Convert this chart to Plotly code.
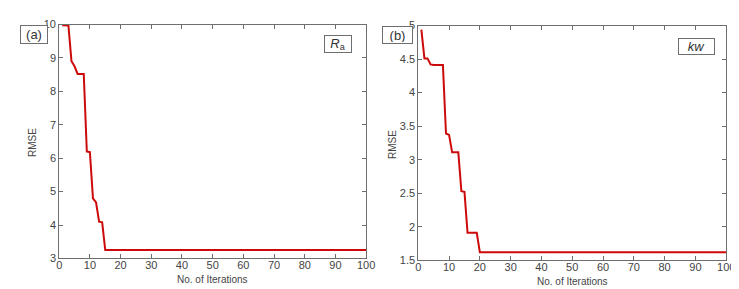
import plotly.graph_objects as go

iterations = list(range(1, 101))

ra_rmse = ([9.98, 9.98, 9.97, 8.9, 8.75, 8.52, 8.52, 8.52, 6.2, 6.18,
            4.8, 4.68, 4.1, 4.08, 3.25] + [3.25] * 85)

kw_rmse = ([4.94, 4.51, 4.51, 4.42, 4.41, 4.41, 4.41, 4.41, 3.39, 3.37,
            3.11, 3.11, 3.11, 2.53, 2.52, 1.91, 1.91, 1.91, 1.91, 1.62] + [1.62] * 80)

x_ticks = list(range(0, 101, 10))
ra_ticks = [3, 4, 5, 6, 7, 8, 9, 10]
kw_ticks = [1.5, 2, 2.5, 3, 3.5, 4, 4.5, 5]
kw_tick_text = ["1.5", "2", "2.5", "3", "3.5", "4", "4.5", "5"]

W, H = 739, 289
FONT = "Liberation Sans, Arial, sans-serif"
AXC = "#6e6e6e"
TXT = "#444444"
RED = "#cc0a0a"

fig = go.Figure()
fig.add_trace(go.Scatter(x=iterations, y=ra_rmse, mode="lines",
                         line=dict(color=RED, width=2), xaxis="x", yaxis="y",
                         showlegend=False))
fig.add_trace(go.Scatter(x=iterations, y=kw_rmse, mode="lines",
                         line=dict(color=RED, width=2), xaxis="x2", yaxis="y2",
                         showlegend=False))

def px_x(p):
    return p / W

def px_y(p):
    return 1 - p / H

axis_common = dict(showline=True, linecolor=AXC, linewidth=1, mirror="ticks",
                   ticks="inside", ticklen=4, tickcolor=AXC, showgrid=False,
                   zeroline=False, tickfont=dict(family=FONT, size=11, color=TXT))

fig.update_layout(
    width=W, height=H,
    margin=dict(l=0, r=0, t=0, b=0),
    paper_bgcolor="white", plot_bgcolor="white",
    font=dict(family=FONT, color=TXT),
    xaxis=dict(domain=[px_x(49), px_x(361)], range=[0, 100], tickvals=x_ticks,
               anchor="y", ticklabelstandoff=-4, **axis_common),
    yaxis=dict(domain=[px_y(255), px_y(11)], range=[3, 10], tickvals=ra_ticks,
               anchor="x", **axis_common),
    xaxis2=dict(domain=[px_x(414), px_x(727)], range=[0, 100], tickvals=x_ticks,
                anchor="y2", ticklabelstandoff=-4, **axis_common),
    yaxis2=dict(domain=[px_y(257), px_y(12)], range=[1.5, 5], tickvals=kw_ticks,
                ticktext=kw_tick_text, anchor="x2", **axis_common),
)

# axis titles
title_font = dict(family=FONT, size=10, color=TXT)
for xc, yc in [((49 + 361) / 2, 277), ((414 + 727) / 2, 279)]:
    fig.add_annotation(text="No. of Iterations", x=px_x(xc), y=px_y(yc), xref="paper",
                       yref="paper", showarrow=False, font=title_font,
                       xanchor="center", yanchor="middle")
for xc, yc in [(22, 134), (388, 136)]:
    fig.add_annotation(text="RMSE", x=px_x(xc), y=px_y(yc), xref="paper",
                       yref="paper", showarrow=False, font=title_font, textangle=-90,
                       xanchor="center", yanchor="middle")

box = dict(showarrow=False, xref="paper", yref="paper", bordercolor=AXC,
           borderwidth=1, bgcolor="white", font=dict(family=FONT, size=13, color="#333333"))

fig.add_annotation(text="(a)", x=px_x(9), y=px_y(11), xanchor="left", yanchor="top",
                   width=24, height=15, borderpad=1, **box)
fig.add_annotation(text="(b)", x=px_x(377), y=px_y(13), xanchor="left", yanchor="top",
                   width=27, height=14, borderpad=1, **box)
fig.add_annotation(text="<i>R</i><sub>a</sub>", x=px_x(318), y=px_y(22), xanchor="left", yanchor="top",
                   width=24, height=14, borderpad=1, **box)
fig.add_annotation(text="<i>kw</i>", x=px_x(678), y=px_y(25), xanchor="left", yanchor="top",
                   width=33, height=13, borderpad=1, **box)

fig.write_html("out.html")
